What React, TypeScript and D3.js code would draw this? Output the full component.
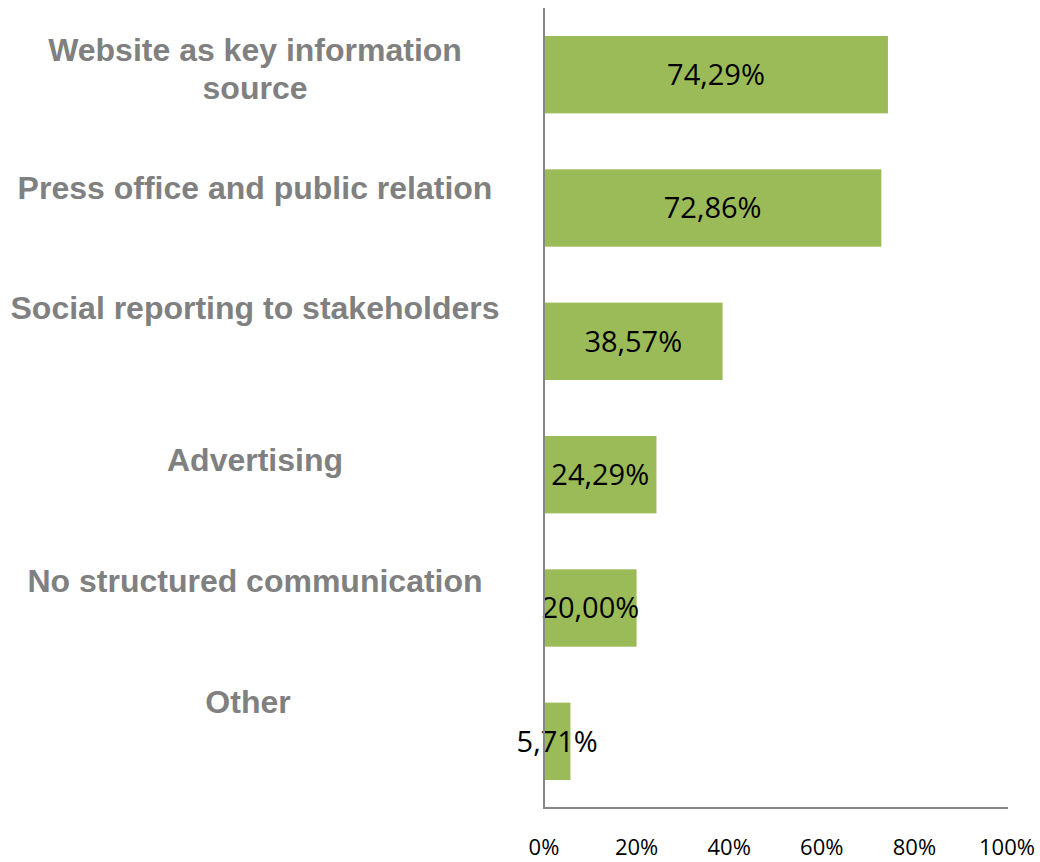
import React from "react";
import * as d3 from "d3";

const categories = [
  "Website as key information source",
  "Press office and public relation",
  "Social reporting to stakeholders",
  "Advertising",
  "No structured communication",
  "Other",
];
const values = [74.29, 72.86, 38.57, 24.29, 20.0, 5.71];
const ticks = [0, 20, 40, 60, 80, 100];

// label layout: lines per category and vertical shifts (px) relative to bar center
const labelLines = [
  ["Website as key information", "source"],
  ["Press office and public relation"],
  ["Social reporting to stakeholders"],
  ["Advertising"],
  ["No structured communication"],
  ["Other"],
];
const labelShift = [-6, -21, -34, -15, -28, -40];
const labelX = [255, 255, 255, 255, 255, 248];

const W = 1040;
const H = 862;

export default function App() {
  const x = d3.scaleLinear().domain([0, 100]).range([544, 1007]);
  const y = d3
    .scaleBand<string>()
    .domain(categories)
    .range([8, 808])
    .paddingInner(0.42)
    .paddingOuter(0.21);
  const fmt = (v: number) => v.toFixed(2).replace(".", ",") + "%";
  const axisColor = "#868686";
  return (
    <svg
      width={W}
      height={H}
      style={{ position: "absolute", left: 0, top: 0, background: "#fff" }}
    >
      {categories.map((c, i) => {
        const y0 = y(c)!;
        const bw = y.bandwidth();
        return (
          <g key={c}>
            <rect x={x(0)} y={y0} width={x(values[i]) - x(0)} height={bw} fill="#9BBB59" />
            <text
              x={(x(0) + x(values[i])) / 2}
              y={y0 + bw / 2}
              dy="0.36em"
              textAnchor="middle"
              fontFamily="'Open Sans', sans-serif"
              fontSize={29}
              fill="#000"
            >
              {fmt(values[i])}
            </text>
            <text
              textAnchor="middle"
              fontFamily="'Liberation Sans', Arial, sans-serif"
              fontWeight="bold"
              fontSize={32}
              fill="#808080"
            >
              {labelLines[i].map((ln, j) => {
                const n = labelLines[i].length;
                const cy = y0 + bw / 2 + labelShift[i] + (j - (n - 1) / 2) * 38;
                return (
                  <tspan key={j} x={labelX[i]} y={cy} dy="0.36em">
                    {ln}
                  </tspan>
                );
              })}
            </text>
          </g>
        );
      })}
      <line x1={x(0)} x2={x(0)} y1={8} y2={809} stroke={axisColor} strokeWidth={2} />
      <line x1={x(0) - 1} x2={1008} y1={808} y2={808} stroke={axisColor} strokeWidth={2} />
      {ticks.map((t) => (
        <text
          key={t}
          x={x(t)}
          y={855}
          textAnchor="middle"
          fontFamily="'Open Sans', sans-serif"
          fontSize={22}
          fill="#000"
        >
          {t + "%"}
        </text>
      ))}
    </svg>
  );
}
